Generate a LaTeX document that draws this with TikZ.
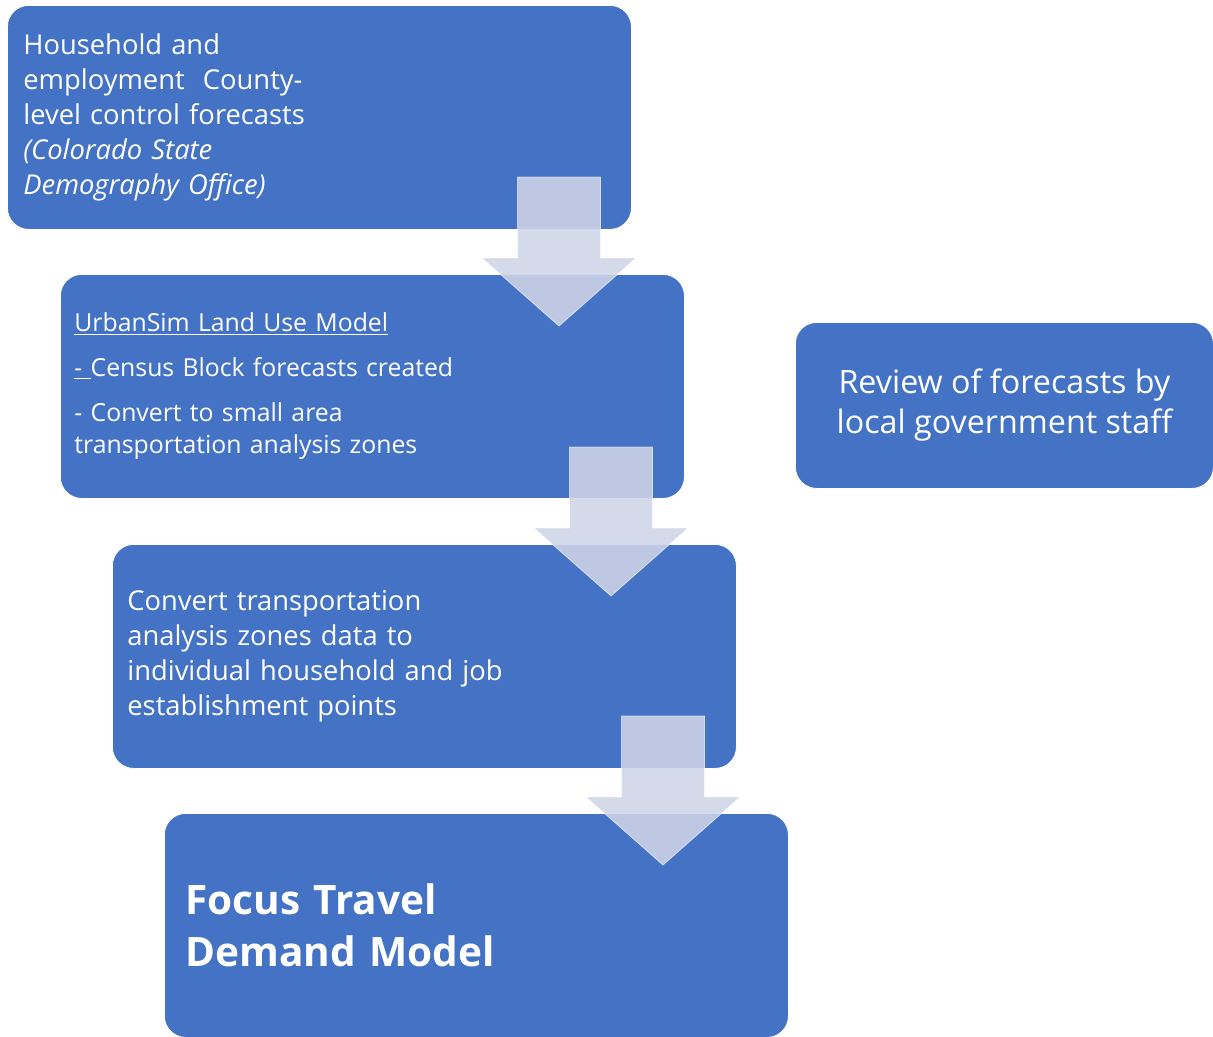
\documentclass[tikz,border=0pt]{standalone}
\usepackage{fontspec}
\setmainfont{Open Sans}
\usepackage{tikz}
\usetikzlibrary{positioning}

\definecolor{boxblue}{HTML}{4472C4}
\definecolor{arrowfill}{RGB}{207,213,232}

\tikzset{
  stage/.style={draw=white, line width=0.6pt, fill=boxblue, rounded corners=16pt,
    text=white, inner ysep=0pt, align=left, anchor=north west, minimum height=168pt},
  flowarrow/.style={fill=arrowfill, fill opacity=0.88, draw=white, draw opacity=0.6,
    line width=0.6pt}
}

\begin{document}
\begin{tikzpicture}[x=0.75pt, y=-0.75pt]
 \useasboundingbox (0,0) rectangle (1213,1036);
 % the four stages
 \node[stage, inner xsep=12pt, text width=444pt,
       font=\fontsize{20.5}{26.25}\selectfont] (hh) at (7,5)
  {Household and\\ employment~ County-\\ level control forecasts\\
   \textit{(Colorado State}\\ \textit{Demography Office)}};
 \node[stage, inner xsep=10.5pt, text width=447pt,
       font=\fontsize{18.6}{24}\selectfont] (urbansim) at (60,274)
  {\underline{UrbanSim Land Use Model}\\[9.75pt]
   \underline{-\ }Census Block forecasts created\\[9.75pt]
   - Convert to small area\\ transportation analysis zones};
 \node[stage, inner xsep=11.25pt, text width=445.5pt,
       font=\fontsize{20.5}{26.25}\selectfont] (convert) at (112,544)
  {Convert transportation\\ analysis zones data to\\
   individual household and job\\ establishment points};
 \node[stage, inner xsep=15.75pt, text width=436.5pt,
       font=\fontsize{30.4}{39}\selectfont\bfseries] (focus) at (164,813)
  {Focus Travel\\ Demand Model};
 % side box
 \node[stage, align=center, minimum width=313.5pt, minimum height=124.5pt,
       font=\fontsize{24.2}{30}\selectfont] (review) at (795,322)
  {Review of forecasts by\\ local government staff};
 % block arrows between the stages
 \foreach \cx/\ty in {559/177, 611/447, 663/716}
  \path[flowarrow] (\cx-41.5,\ty) -- (\cx+41.5,\ty) -- (\cx+41.5,\ty+81)
   -- (\cx+77,\ty+81) -- (\cx,\ty+149) -- (\cx-77,\ty+81)
   -- (\cx-41.5,\ty+81) -- cycle;
\end{tikzpicture}
\end{document}
